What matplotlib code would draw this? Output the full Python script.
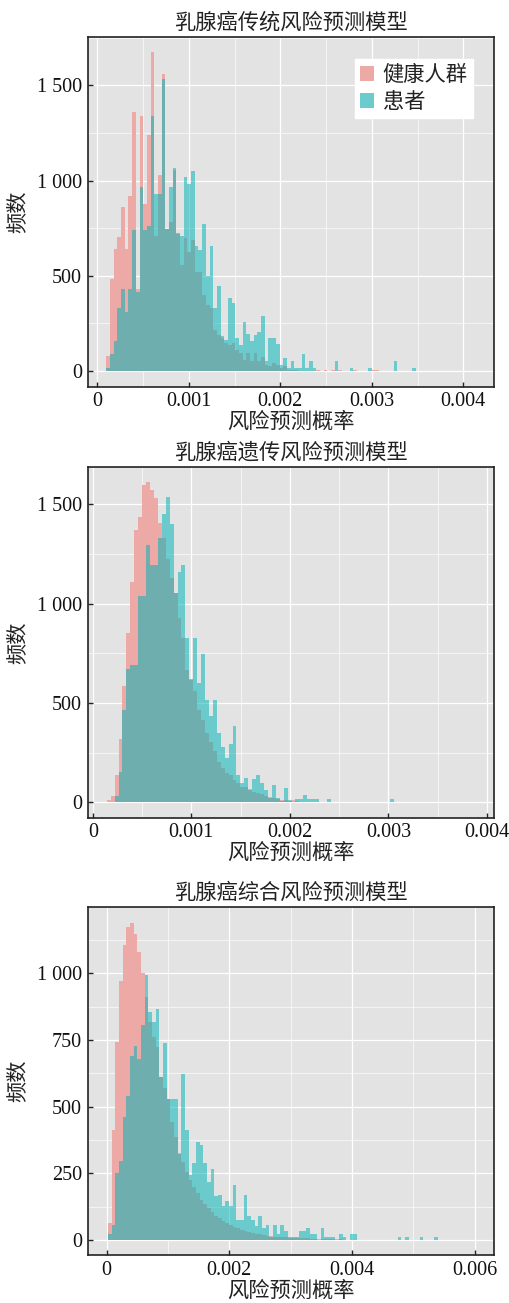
import matplotlib
matplotlib.use("Agg")
import matplotlib.pyplot as plt
import numpy as np
from matplotlib.patches import Patch
from matplotlib.ticker import FuncFormatter, MultipleLocator

# ---------------- data (bin counts) ----------------
titles = ["乳腺癌传统风险预测模型", "乳腺癌遗传风险预测模型", "乳腺癌综合风险预测模型"]
xlabel = "风险预测概率"
ylabel = "频数"
legend_labels = ["健康人群", "患者"]

# panel 1
p1_bin_start = 0.0000987
p1_bin_width = 0.00004026
p1_healthy = [79, 481, 642, 705, 862, 642, 921, 1362, 430, 1341, 879, 1241, 1673, 710,
              1031, 1558, 743, 780, 1058, 720, 556, 696, 622, 687, 521, 521, 399, 346,
              329, 215, 189, 171, 145, 136, 145, 110, 93, 58, 93, 49, 93, 49, 75, 31,
              23, 40, 31, 14, 23, 5, 5, 5, 0, 0, 0, 0, 0, 4, 0, 4, 0, 4, 0, 4, 0, 0,
              0, 4, 0, 0, 0, 0, 4, 4]
p1_patient = [14, 87, 157, 329, 430, 311, 430, 740, 416, 967, 740, 760, 1341, 928,
              928, 1535, 743, 967, 1068, 722, 710, 1017, 984, 1052, 657, 635, 774, 498,
              656, 329, 446, 184, 163, 381, 355, 171, 136, 259, 194, 154, 189, 206, 290,
              54, 171, 171, 142, 31, 66, 14, 49, 14, 14, 87, 14, 52, 14, 0, 0, 0, 0, 0,
              52, 0, 0, 0, 17, 0, 0, 0, 0, 17, 0, 0, 0, 0, 0, 0, 52, 0, 0, 0, 0, 17]

# panel 2
p2_bin_start = 0.0001413
p2_bin_width = 0.0000399
p2_healthy = [12, 32, 138, 318, 584, 853, 1110, 1368, 1436, 1596, 1613, 1571, 1532, 1404,
              1328, 1224, 1131, 1055, 929, 828, 668, 618, 559, 466, 416, 348, 306, 256,
              205, 172, 146, 138, 110, 99, 79, 79, 66, 54, 45, 40, 32, 25, 20, 15, 12,
              10, 8, 12, 5]
p2_patient = [0, 0, 32, 155, 466, 672, 690, 690, 1039, 1039, 1295, 1194, 1194, 1330,
              1451, 1535, 1401, 1055, 1157, 1194, 828, 621, 828, 601, 744, 517, 433, 517,
              348, 278, 222, 293, 382, 138, 99, 121, 62, 116, 138, 99, 62, 20, 88, 20, 5,
              71, 12, 0, 15, 15, 37, 15, 15, 15, 0, 0, 15, 0, 0, 0, 0, 0, 0, 0, 0, 0, 0,
              0, 0, 0, 0, 0, 15]

# panel 3
p3_bin_start = 0.0000212
p3_bin_width = 0.0000598
p3_healthy = [65, 412, 744, 972, 1106, 1175, 1187, 1147, 1081, 1002, 912, 819, 762, 725,
              612, 569, 527, 444, 385, 325, 294, 256, 225, 197, 175, 150, 135, 119, 104,
              90, 81, 72, 65, 56, 50, 44, 37, 34, 30, 27, 24, 21, 19, 17, 15, 13, 12, 11,
              10, 9, 8, 7, 7, 6, 6, 5, 5, 4, 4, 4, 3, 3, 3, 3, 2, 2, 2, 2, 2, 2]
p3_patient = [22, 56, 252, 297, 460, 540, 691, 727, 680, 806, 992, 854, 819, 865, 610,
              737, 530, 530, 530, 322, 622, 412, 242, 287, 367, 356, 287, 216, 265, 166,
              170, 127, 147, 127, 205, 77, 77, 170, 91, 77, 52, 90, 44, 56, 12, 56, 22, 56,
              35, 10, 10, 10, 35, 35, 44, 22, 22, 0, 44, 10, 10, 10, 0, 22, 10, 0, 22, 22,
              0, 0, 0, 0, 0, 0, 0, 0, 0, 0, 0, 10, 0, 10, 0, 0, 0, 10, 0, 0, 0, 10]

x_ticks = [[0, 0.001, 0.002, 0.003, 0.004],
           [0, 0.001, 0.002, 0.003, 0.004],
           [0, 0.002, 0.004, 0.006]]
y_ticks = [[0, 500, 1000, 1500], [0, 500, 1000, 1500], [0, 250, 500, 750, 1000]]

# ---------------- style ----------------
CJK = ["Noto Sans CJK SC", "DejaVu Sans"]
NUM = ["Liberation Serif", "DejaVu Serif"]
PANEL_BG = "#E3E3E3"
PINK = "#EDA9A6"
TEAL = (0.0, 0.705, 0.714, 0.53)
CJK_SIZE = 15.3

fig = plt.figure(figsize=(5.09, 13.03), dpi=100)
W, H = 509.0, 1303.0
boxes = [(87.7, 36.7, 494.3, 386.7), (87.7, 467.3, 494.0, 817.7), (87.7, 907.3, 494.0, 1255.0)]
xlims = [(-0.000105, 0.004338), (-0.0000517, 0.004071), (-0.00031, 0.006318)]
ylims = [(-83.6, 1756.0), (-77.5, 1686.0), (-56.0, 1247.0)]
x_minor = [0.0005, 0.0005, 0.001]
y_minor = [250, 250, 125]

panels = [(p1_bin_start, p1_bin_width, p1_healthy, p1_patient),
          (p2_bin_start, p2_bin_width, p2_healthy, p2_patient),
          (p3_bin_start, p3_bin_width, p3_healthy, p3_patient)]


def yfmt(v, pos):
    return f"{int(round(v)):,}".replace(",", " ")


def xfmt(v, pos):
    if abs(v) < 1e-12:
        return "0"
    return f"{v:.3f}"


for k, (l, t, r, b) in enumerate(boxes):
    ax = fig.add_axes([l / W, 1 - b / H, (r - l) / W, (b - t) / H])
    ax.set_facecolor(PANEL_BG)
    start, width, healthy, patient = panels[k]
    eh = start + width * np.arange(len(healthy))
    ep = start + width * np.arange(len(patient))
    ax.bar(eh, healthy, width=width, align="edge", color=PINK, linewidth=0, zorder=2)
    ax.bar(ep, patient, width=width, align="edge", color=TEAL, linewidth=0, zorder=3)

    ax.set_xlim(*xlims[k])
    ax.set_ylim(*ylims[k])
    ax.set_xticks(x_ticks[k])
    ax.set_yticks(y_ticks[k])
    ax.xaxis.set_minor_locator(MultipleLocator(x_minor[k]))
    ax.yaxis.set_minor_locator(MultipleLocator(y_minor[k]))
    ax.xaxis.set_major_formatter(FuncFormatter(xfmt))
    ax.yaxis.set_major_formatter(FuncFormatter(yfmt))
    ax.grid(which="major", color="white", linewidth=0.9, zorder=0)
    ax.grid(which="minor", color="white", linewidth=0.45, zorder=0)
    ax.set_axisbelow(True)
    ax.tick_params(which="major", direction="in", length=3.5, width=1.0, color="#222222",
                   labelsize=14.5, pad=4)
    ax.tick_params(which="minor", length=0)
    for lab in ax.get_xticklabels() + ax.get_yticklabels():
        lab.set_family(NUM)
        lab.set_color("#111111")
    for sp in ax.spines.values():
        sp.set_linewidth(1.2)
        sp.set_color("#222222")
        sp.set_zorder(5)

    ax.set_title(titles[k], family=CJK, fontsize=CJK_SIZE, pad=6, color="#222222")
    ax.set_xlabel(xlabel, family=CJK, fontsize=CJK_SIZE, labelpad=0, color="#222222")
    ax.set_ylabel(ylabel, family=CJK, fontsize=CJK_SIZE, labelpad=6, color="#222222")

    if k == 0:
        handles = [Patch(facecolor=PINK, edgecolor="none"),
                   Patch(facecolor=(0.424, 0.796, 0.8), edgecolor="none")]
        leg = ax.legend(handles, legend_labels, loc="upper right",
                        bbox_to_anchor=(0.947, 0.936), frameon=True, fancybox=False,
                        facecolor="white", edgecolor="white", framealpha=1.0,
                        prop={"family": CJK, "size": CJK_SIZE},
                        handlelength=0.68, handleheight=0.68, handletextpad=0.4,
                        labelspacing=0.22, borderpad=0.24, borderaxespad=0)
        leg.set_zorder(6)
        for txt in leg.get_texts():
            txt.set_color("#222222")

fig.savefig("out.png", dpi=100, facecolor="white")
